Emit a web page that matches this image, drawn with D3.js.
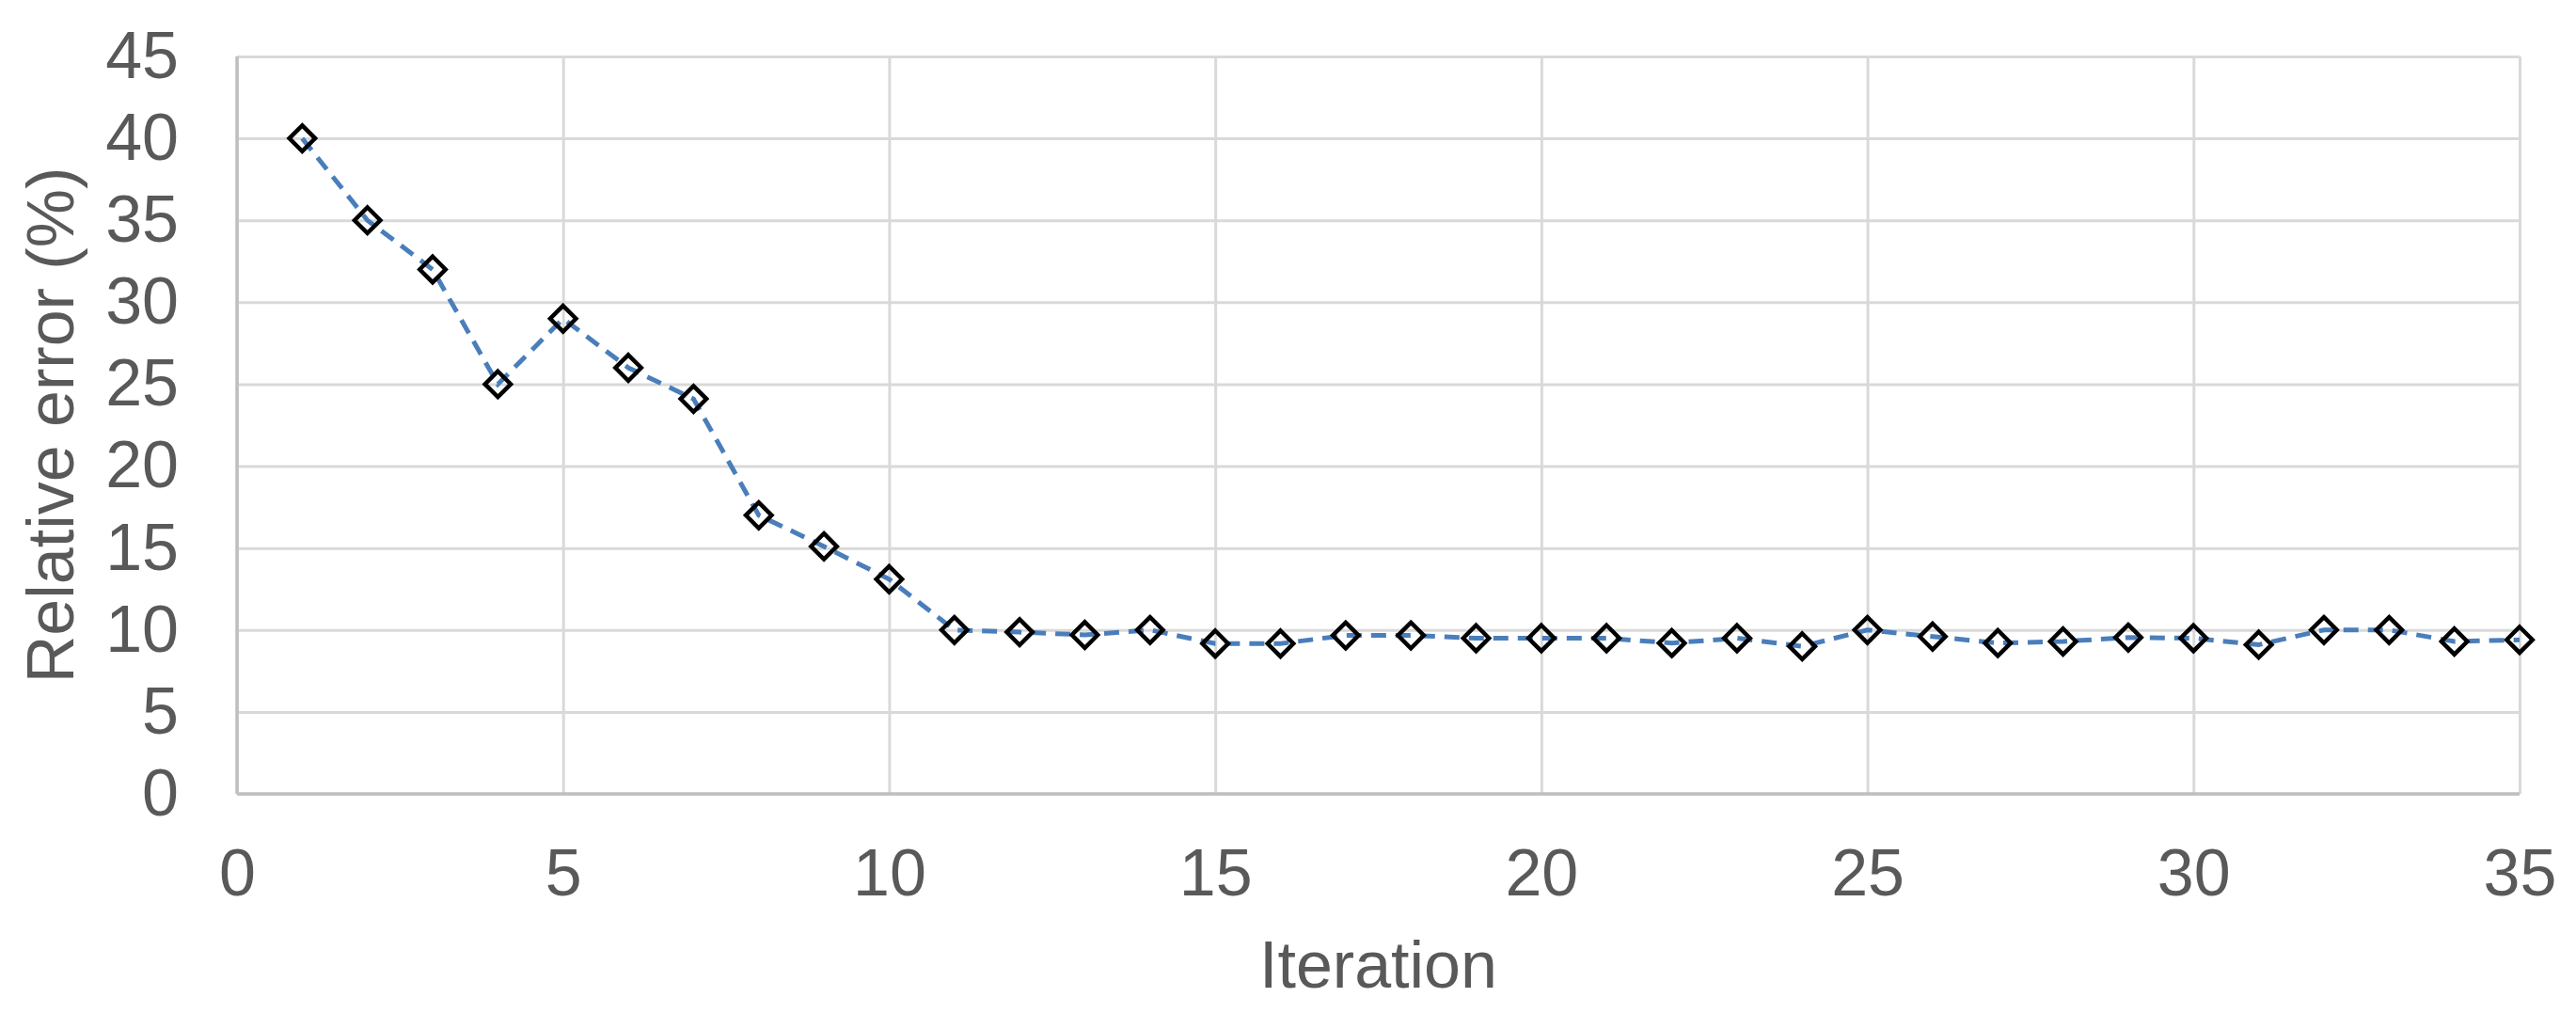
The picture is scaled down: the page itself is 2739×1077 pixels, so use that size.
<!DOCTYPE html>
<html>
<head>
<meta charset="utf-8">
<script src="https://cdn.jsdelivr.net/npm/d3@7"></script>
<style>
  body { margin: 0; background: #fff; }
  svg text { font-family: "Liberation Sans", Arial, sans-serif; fill: #595959; }
</style>
</head>
<body>
<svg id="chart"></svg>
<script>
// data
var iterations = d3.range(1, 36);
var relError = [40, 35, 32, 25, 29, 26, 24.1, 17, 15.1, 13.1,
                10, 9.87, 9.7, 10, 9.17, 9.17, 9.67, 9.67, 9.5, 9.5,
                9.5, 9.2, 9.5, 9.0, 10, 9.6, 9.2, 9.3, 9.54, 9.5,
                9.1, 10, 10, 9.3, 9.4];
var xTicks = [0, 5, 10, 15, 20, 25, 30, 35];
var yTicks = [0, 5, 10, 15, 20, 25, 30, 35, 40, 45];

var W = 2739, H = 1077;
var margin = {top: 60, right: 60, bottom: 233, left: 252};
var width = 2679 - margin.left, height = 844 - margin.top;

var svg = d3.select('#chart').attr('width', W).attr('height', H);
svg.append('rect').attr('width', W).attr('height', H).attr('fill', '#fff');

var g = svg.append('g').attr('transform', 'translate(' + margin.left + ',' + margin.top + ')');

var x = d3.scaleLinear().domain([0, 35]).range([0, width]);
var y = d3.scaleLinear().domain([0, 45]).range([height, 0]);

// grid lines
g.append('g').attr('class', 'ygrid')
  .call(d3.axisLeft(y).tickValues(yTicks).tickSize(-width).tickFormat(''))
  .call(function(s) { s.select('.domain').remove(); })
  .selectAll('line').attr('stroke', '#d9d9d9').attr('stroke-width', 3);

g.append('g').attr('class', 'xgrid')
  .call(d3.axisBottom(x).tickValues(xTicks).tickSize(height).tickFormat(''))
  .call(function(s) { s.select('.domain').remove(); })
  .selectAll('line').attr('stroke', '#d9d9d9').attr('stroke-width', 3);

// left and bottom axis lines, a bit darker than the grid
g.append('line').attr('x1', 0).attr('x2', 0).attr('y1', 0).attr('y2', height)
  .attr('stroke', '#bfbfbf').attr('stroke-width', 3.5);
g.append('line').attr('x1', 0).attr('x2', width).attr('y1', height).attr('y2', height)
  .attr('stroke', '#bfbfbf').attr('stroke-width', 3.5);

// tick labels
var xAxis = g.append('g').attr('transform', 'translate(0,' + height + ')')
  .call(d3.axisBottom(x).tickValues(xTicks).tickSize(0).tickPadding(58).tickFormat(d3.format('d')));
xAxis.select('.domain').remove();
xAxis.selectAll('text').attr('font-size', 70).attr('fill', '#595959');

var yAxis = g.append('g')
  .call(d3.axisLeft(y).tickValues(yTicks).tickSize(0).tickPadding(62).tickFormat(d3.format('d')));
yAxis.select('.domain').remove();
yAxis.selectAll('text').attr('font-size', 70).attr('fill', '#595959');

// axis titles
svg.append('text')
  .attr('x', margin.left + width / 2).attr('y', 1050)
  .attr('text-anchor', 'middle').attr('font-size', 70)
  .text('Iteration');

svg.append('text')
  .attr('transform', 'translate(78,' + (margin.top + height / 2) + ') rotate(-90)')
  .attr('text-anchor', 'middle').attr('font-size', 70)
  .text('Relative error (%)');

// series
var pts = iterations.map(function(d, i) { return [d, relError[i]]; });

g.append('path').datum(pts)
  .attr('fill', 'none')
  .attr('stroke', '#4a7ebb')
  .attr('stroke-width', 5)
  .attr('stroke-dasharray', '16,10')
  .attr('d', d3.line().x(function(d) { return x(d[0]); }).y(function(d) { return y(d[1]); }));

var diamond = d3.symbol().type(d3.symbolDiamond2).size(480);
g.selectAll('.pt').data(pts).enter().append('path')
  .attr('class', 'pt')
  .attr('transform', function(d) { return 'translate(' + x(d[0]) + ',' + y(d[1]) + ')'; })
  .attr('d', diamond)
  .attr('fill', 'none')
  .attr('stroke', '#000')
  .attr('stroke-width', 4.5);
</script>
</body>
</html>
